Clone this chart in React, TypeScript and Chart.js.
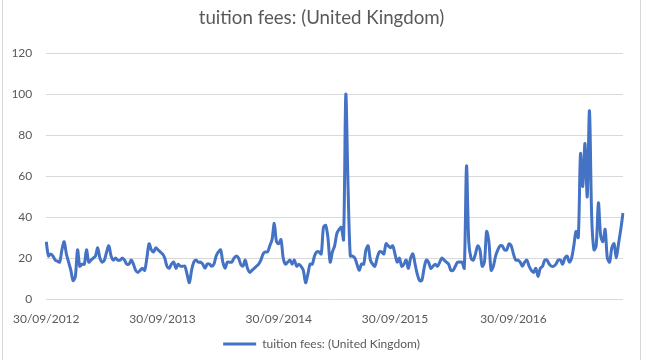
import React, { useEffect, useRef } from "react";
import { Chart, registerables } from "chart.js";

Chart.register(...registerables);

const seriesName = "tuition fees: (United Kingdom)";
const titleText = "tuition fees: (United Kingdom)";

const startDate = "2012-09-30";
const weekCount = 259;

const tickLabels = ["30/09/2012", "30/09/2013", "30/09/2014", "30/09/2015", "30/09/2016"];
const tickIndices = [0, 52, 104, 156, 209];

const yTicks = [0, 20, 40, 60, 80, 100, 120];

const values2012_13 = [
  28, 21, 22, 21, 19, 18.5, 18, 24, 28, 22, 18, 14, 9, 11, 24, 16, 17, 17, 24, 18,
  19, 20, 21, 25, 20, 18, 19, 23, 26, 21, 19, 20, 19, 19, 20, 19, 17, 17, 19, 17,
  14, 13, 14, 15, 14, 20, 27, 24, 23, 25, 24, 23,
];
const values2013_14 = [
  22, 20, 16, 15, 17, 18, 15, 17, 16, 16, 16, 12, 8, 14, 18, 19, 18, 18, 17, 15,
  17, 17, 16, 17, 21, 23, 24, 18, 15, 18, 18, 18, 20, 21, 20, 17, 16, 19, 15, 13,
  14, 15, 16, 17, 19, 22, 23, 23, 26, 29, 37, 28,
];
const values2014_15 = [
  27, 29, 20, 17, 18, 19, 17, 19, 16, 17, 16, 14, 8, 12, 17, 17, 21, 23, 23, 22,
  35, 36, 30, 18, 23, 26, 32, 34, 35, 29, 100, 55, 21, 21, 20, 17, 14, 17, 17, 24,
  26, 19, 17, 16, 20, 23, 23, 22, 27, 26, 25, 26,
];
const values2015_16 = [
  22, 18, 20, 16, 17, 19, 15, 20, 22, 17, 12, 9, 9, 15, 19, 18, 15, 16, 17, 16,
  18, 20, 19, 18, 17, 14, 14, 16, 18, 18, 18, 15, 65, 28, 20, 19, 22, 26, 24, 16,
  18, 33, 28, 14, 16, 21, 24, 26, 26, 24, 24, 27, 26,
];
const values2016_17 = [
  22, 19, 19, 18, 16, 18, 19, 16, 14, 13, 15, 11, 15, 16, 19, 19, 17, 16, 16, 17,
  19, 19, 17, 20, 21, 18, 20, 26, 33, 30, 71, 55, 76, 50, 92, 40, 24, 26, 47, 31,
  28, 34, 20, 18, 25, 27, 20, 27, 34, 42,
];

const seriesValues = [
  ...values2012_13,
  ...values2013_14,
  ...values2014_15,
  ...values2015_16,
  ...values2016_17,
];

function buildWeekLabels(): string[] {
  const out: string[] = [];
  const d0 = new Date(startDate + "T00:00:00Z");
  for (let i = 0; i < weekCount; i++) {
    const d = new Date(d0.getTime() + i * 7 * 86400000);
    const dd = String(d.getUTCDate()).padStart(2, "0");
    const mm = String(d.getUTCMonth() + 1).padStart(2, "0");
    out.push(`${dd}/${mm}/${d.getUTCFullYear()}`);
  }
  return out;
}

const TEXT = "#595959";
const GRID = "#d9d9d9";
const LINE = "#4472C4";
const FONT = "Lato, 'Open Sans', sans-serif";

// widen the y-axis label clip box so the right-aligned labels are not cut
const yLabelRoom = {
  id: "yLabelRoom",
  afterLayout(chart: any) {
    const y = chart.scales.y;
    if (y) y.left = 0;
  },
};

export default function App() {
  const ref = useRef<HTMLCanvasElement | null>(null);

  useEffect(() => {
    if (!ref.current) return;
    const labels = buildWeekLabels();
    const chart = new Chart(ref.current, {
      type: "line",
      data: {
        labels,
        datasets: [
          {
            label: seriesName,
            data: seriesValues.slice(0, weekCount),
            borderColor: LINE,
            backgroundColor: LINE,
            borderWidth: 3,
            pointRadius: 0,
            tension: 0.3,
            fill: false,
          },
        ],
      },
      plugins: [yLabelRoom],
      options: {
        responsive: false,
        animation: false,
        layout: { padding: { left: 20, right: 28, top: 0, bottom: 0 } },
        plugins: {
          title: {
            display: true,
            text: titleText,
            color: TEXT,
            font: { family: FONT, size: 18.7, weight: "normal" },
            padding: { top: 7, bottom: 24 },
          },
          legend: {
            display: true,
            position: "bottom",
            labels: {
              usePointStyle: true,
              pointStyle: "line",
              pointStyleWidth: 33,
              color: TEXT,
              font: { family: FONT, size: 12 },
              padding: 10,
            },
          },
          tooltip: { enabled: false },
        },
        scales: {
          x: {
            type: "category",
            offset: false,
            afterFit: (scale: any) => {
              scale.height = 29;
            },
            grid: { display: false, drawTicks: false },
            border: { display: false },
            ticks: {
              autoSkip: false,
              maxRotation: 0,
              minRotation: 0,
              padding: 13,
              color: TEXT,
              font: { family: FONT, size: 12 },
              callback: (_v: any, index: number) => {
                const k = tickIndices.indexOf(index);
                return k >= 0 ? tickLabels[k] : null;
              },
            },
          },
          y: {
            min: 0,
            max: 120,
            afterFit: (scale: any) => {
              scale.width = 25;
            },
            afterBuildTicks: (scale: any) => {
              scale.ticks = yTicks.map((v) => ({ value: v }));
            },
            grid: { color: GRID, lineWidth: 1, drawTicks: false },
            border: { display: false },
            ticks: {
              padding: 14,
              color: TEXT,
              font: { family: FONT, size: 12 },
            },
          },
        },
      },
    });
    return () => chart.destroy();
  }, []);

  return (
    <div style={{ position: "absolute", left: 0, top: 0, width: 651, height: 360, background: "#fff" }}>
      <canvas ref={ref} width={651} height={360} style={{ display: "block" }} />
      <div style={{ position: "absolute", left: 2, top: 0, width: 1, height: 360, background: GRID }} />
      <div style={{ position: "absolute", left: 640, top: 0, width: 1, height: 360, background: GRID }} />
    </div>
  );
}
